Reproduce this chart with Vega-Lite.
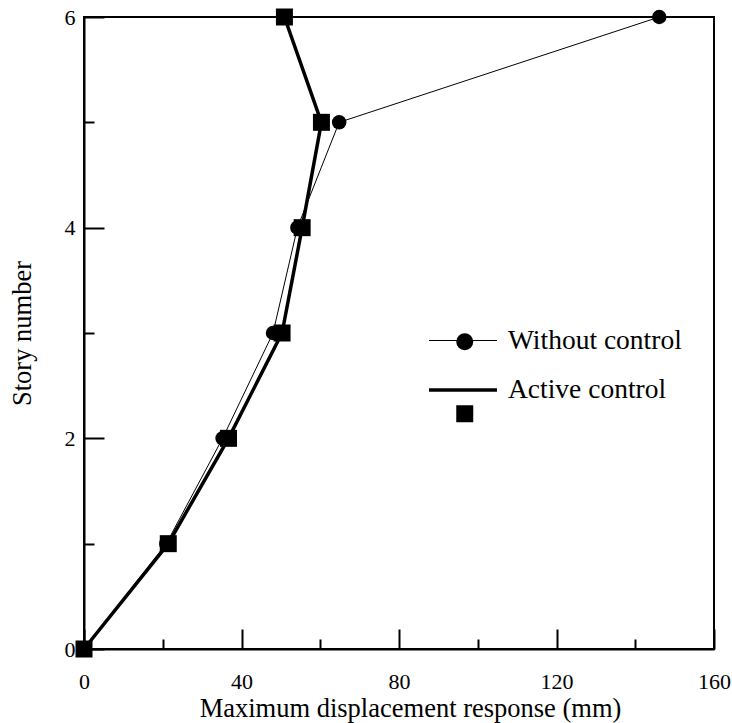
{
  "$schema": "https://vega.github.io/schema/vega-lite/v6.json",
  "autosize": {"type": "none"},
  "width": 630,
  "height": 632,
  "padding": {"left": 84, "top": 17, "right": 18, "bottom": 74},
  "background": "white",
  "config": {
    "view": {"stroke": "black", "strokeWidth": 2},
    "font": "Liberation Serif",
    "axis": {
      "domainColor": "black", "domainWidth": 2, "tickColor": "black", "tickWidth": 2,
      "labelFont": "Liberation Serif", "labelFontSize": 22, "labelColor": "black", "labelFlush": false,
      "titleFont": "Liberation Serif", "titleFontSize": 26.5, "titleFontWeight": "normal", "titleColor": "black",
      "grid": false
    }
  },
  "data": {"values": [
    {"series": "Without control", "disp": 0, "story": 0},
    {"series": "Without control", "disp": 20.9, "story": 1},
    {"series": "Without control", "disp": 35.2, "story": 2},
    {"series": "Without control", "disp": 48.0, "story": 3},
    {"series": "Without control", "disp": 54.2, "story": 4},
    {"series": "Without control", "disp": 64.8, "story": 5},
    {"series": "Without control", "disp": 146.1, "story": 6},
    {"series": "Active control", "disp": 0, "story": 0},
    {"series": "Active control", "disp": 21.4, "story": 1},
    {"series": "Active control", "disp": 36.7, "story": 2},
    {"series": "Active control", "disp": 50.3, "story": 3},
    {"series": "Active control", "disp": 55.4, "story": 4},
    {"series": "Active control", "disp": 60.3, "story": 5},
    {"series": "Active control", "disp": 50.9, "story": 6}
  ]},
  "encoding": {
    "x": {"field": "disp", "type": "quantitative",
      "scale": {"domain": [0, 160], "nice": false, "zero": false},
      "axis": {"title": "Maximum displacement response (mm)",
        "values": [0, 20, 40, 60, 80, 100, 120, 140, 160],
        "labelExpr": "datum.value % 40 === 0 ? datum.label : ''",
        "tickSize": {"condition": {"test": "datum.value % 40 === 0", "value": -20}, "value": -10},
        "labelPadding": 42, "titlePadding": 3, "titleX": 326}},
    "y": {"field": "story", "type": "quantitative",
      "scale": {"domain": [0, 6], "nice": false, "zero": false},
      "axis": {"title": "Story number",
        "values": [0, 1, 2, 3, 4, 5, 6],
        "labelExpr": "datum.value % 2 === 0 ? datum.label : ''",
        "tickSize": {"condition": {"test": "datum.value % 2 === 0", "value": -20}, "value": -10},
        "labelPadding": 29, "titlePadding": 28}},
    "order": {"field": "story", "type": "quantitative"}
  },
  "layer": [
    {
      "transform": [{"filter": "datum.series === 'Without control'"}],
      "mark": {"type": "line", "color": "black"},
      "encoding": {
        "strokeWidth": {"field": "series", "type": "nominal",
          "sort": ["Without control", "Active control"],
          "scale": {"range": [1, 3.5]},
          "legend": {"title": null, "orient": "none", "legendX": 343, "legendY": 289,
            "padding": 0, "symbolSize": 4624, "symbolType": "stroke", "symbolStrokeColor": "black",
            "labelOffset": 9, "rowPadding": -2, "labelLimit": 0,
            "labelFont": "Liberation Serif", "labelFontSize": 27.5, "labelColor": "black"}}
      }
    },
    {
      "transform": [{"filter": "datum.series === 'Without control'"}],
      "mark": {"type": "point", "shape": "circle", "filled": true, "color": "black", "opacity": 1, "size": 210}
    },
    {
      "transform": [{"filter": "datum.series === 'Active control'"}],
      "mark": {"type": "line", "color": "black"},
      "encoding": {
        "strokeWidth": {"field": "series", "type": "nominal", "sort": ["Without control", "Active control"]}
      }
    },
    {
      "transform": [{"filter": "datum.series === 'Active control'"}],
      "mark": {"type": "point", "shape": "square", "filled": true, "color": "black", "opacity": 1, "size": 289}
    },
    {
      "transform": [{"filter": "false"}],
      "mark": {"type": "point", "filled": true, "color": "black", "opacity": 1, "size": 289},
      "encoding": {
        "shape": {"field": "series", "type": "nominal",
          "scale": {"domain": ["Without control", "Active control"], "range": ["circle", "square"]},
          "legend": {"title": null, "orient": "none", "legendX": 367, "legendY": 311,
            "padding": 0, "symbolSize": 289, "labelExpr": "''", "rowPadding": 43,
            "labelFont": "Liberation Serif", "labelFontSize": 27.5,
            "symbolFillColor": "black", "symbolStrokeColor": "black", "symbolOpacity": 1,
            "values": ["Without control", "Active control"]}
        }
      }
    }
  ]
}
